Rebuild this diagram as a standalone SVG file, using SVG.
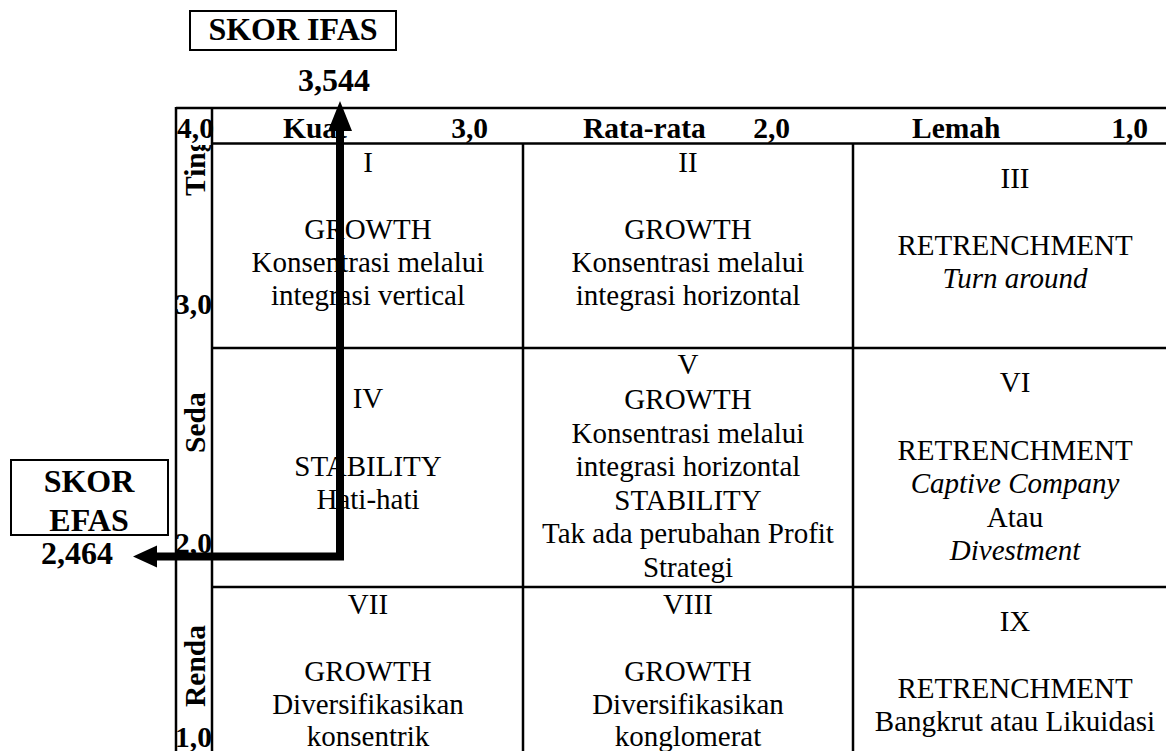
<svg xmlns="http://www.w3.org/2000/svg" width="1166" height="751" viewBox="0 0 1166 751">
<style>
text{font-family:"Liberation Serif","Times New Roman",serif;fill:#000}
.big{font-size:32px;font-weight:bold}
.hd{font-size:29.5px;font-weight:bold}
.c{font-size:29px;text-anchor:middle}
.i{font-style:italic}
.grid line{stroke:#000;stroke-width:2.5}
.box{fill:none;stroke:#000;stroke-width:2}
</style>
<defs>
<clipPath id="clipTing"><rect x="176" y="145" width="36" height="100"/></clipPath>
</defs>
<rect width="1166" height="751" fill="#fff"/>
<g id="ifas-label">
<rect class="box" x="190" y="11" width="206" height="39"/>
<text class="big" x="293" y="40" text-anchor="middle">SKOR IFAS</text>
<text class="big" x="334" y="91" text-anchor="middle">3,544</text>
</g>
<g id="efas-label">
<rect class="box" x="11" y="460" width="157" height="75"/>
<text class="big" x="89" y="492" text-anchor="middle">SKOR</text>
<text class="big" x="89" y="531" text-anchor="middle">EFAS</text>
<text class="big" x="77" y="564" text-anchor="middle">2,464</text>
</g>
<g id="grid" class="grid">
<line x1="176" y1="108" x2="1166" y2="108"/>
<line x1="212" y1="143.5" x2="1166" y2="143.5"/>
<line x1="212" y1="348" x2="1166" y2="348"/>
<line x1="212" y1="587" x2="1166" y2="587"/>
<line x1="176" y1="107" x2="176" y2="751"/>
<line x1="212" y1="107" x2="212" y2="751"/>
<line x1="523" y1="143" x2="523" y2="751"/>
<line x1="853" y1="143" x2="853" y2="751"/>
</g>
<g id="header">
<text class="hd" x="177" y="138">4,0</text>
<text class="hd" x="283" y="138">Kuat</text>
<text class="hd" x="488" y="138" text-anchor="end">3,0</text>
<text class="hd" x="583" y="138">Rata-rata</text>
<text class="hd" x="790" y="138" text-anchor="end">2,0</text>
<text class="hd" x="912" y="138">Lemah</text>
<text class="hd" x="1148" y="138" text-anchor="end">1,0</text>
</g>
<g id="axis-left">
<g clip-path="url(#clipTing)"><text class="hd" transform="translate(205,196) rotate(-90)">Ting</text></g>
<text class="hd" x="175" y="314">3,0</text>
<text class="hd" transform="translate(205,453) rotate(-90)">Seda</text>
<text class="hd" x="175" y="553">2,0</text>
<text class="hd" transform="translate(205,707) rotate(-90)">Renda</text>
<text class="hd" x="175" y="747">1,0</text>
</g>
<g id="cell-I">
<text class="c" x="368" y="172">I</text>
<text class="c" x="368" y="239">GROWTH</text>
<text class="c" x="368" y="272">Konsentrasi melalui</text>
<text class="c" x="368" y="305">integrasi vertical</text>
</g>
<g id="cell-II">
<text class="c" x="688" y="172">II</text>
<text class="c" x="688" y="239">GROWTH</text>
<text class="c" x="688" y="272">Konsentrasi melalui</text>
<text class="c" x="688" y="305">integrasi horizontal</text>
</g>
<g id="cell-III">
<text class="c" x="1015" y="188">III</text>
<text class="c" x="1015" y="255">RETRENCHMENT</text>
<text class="c i" x="1015" y="288">Turn around</text>
</g>
<g id="cell-IV">
<text class="c" x="368" y="408">IV</text>
<text class="c" x="368" y="476">STABILITY</text>
<text class="c" x="368" y="509">Hati-hati</text>
</g>
<g id="cell-V">
<text class="c" x="688" y="374">V</text>
<text class="c" x="688" y="409">GROWTH</text>
<text class="c" x="688" y="443">Konsentrasi melalui</text>
<text class="c" x="688" y="476">integrasi horizontal</text>
<text class="c" x="688" y="510">STABILITY</text>
<text class="c" x="688" y="543">Tak ada perubahan Profit</text>
<text class="c" x="688" y="577">Strategi</text>
</g>
<g id="cell-VI">
<text class="c" x="1015" y="392">VI</text>
<text class="c" x="1015" y="460">RETRENCHMENT</text>
<text class="c i" x="1015" y="493">Captive Company</text>
<text class="c" x="1015" y="527">Atau</text>
<text class="c i" x="1015" y="560">Divestment</text>
</g>
<g id="cell-VII">
<text class="c" x="368" y="614">VII</text>
<text class="c" x="368" y="681">GROWTH</text>
<text class="c" x="368" y="714">Diversifikasikan</text>
<text class="c" x="368" y="746">konsentrik</text>
</g>
<g id="cell-VIII">
<text class="c" x="688" y="614">VIII</text>
<text class="c" x="688" y="681">GROWTH</text>
<text class="c" x="688" y="714">Diversifikasikan</text>
<text class="c" x="688" y="746">konglomerat</text>
</g>
<g id="cell-IX">
<text class="c" x="1015" y="631">IX</text>
<text class="c" x="1015" y="698">RETRENCHMENT</text>
<text class="c" x="1015" y="731">Bangkrut atau Likuidasi</text>
</g>
<g id="connectors">
<polyline points="340,130 340,556.5 156,556.5" fill="none" stroke="#000" stroke-width="8"/>
<polygon points="340,101 352,131 328,131" fill="#000"/>
<polygon points="133,556.5 157,545.5 157,567.5" fill="#000"/>
</g>
</svg>
